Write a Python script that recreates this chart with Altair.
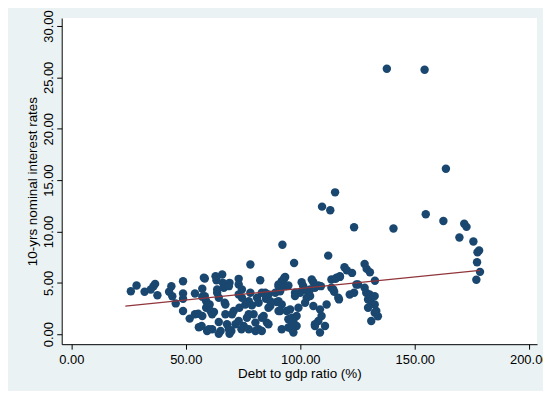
import altair as alt
import pandas as pd

debt = [
    26.0, 28.5, 32.0, 34.7, 35.9, 36.6, 37.6, 42.7, 43.7, 44.1, 45.6, 48.8, 48.8, 48.8, 48.8,
    51.7, 54.0, 54.0, 55.4, 55.7, 57.2, 58.3, 58.3, 58.9, 58.9, 59.3, 56.9, 57.2, 57.2, 57.9,
    60.4, 60.8, 61.5, 62.3, 63.4, 63.7, 63.7, 64.4, 65.2, 65.9, 66.2, 67.0, 67.3, 68.0, 69.1,
    69.1, 69.9, 70.9, 71.7, 73.1, 73.1, 73.1, 73.4, 74.3, 75.3, 76.7, 77.5, 78.2, 78.2, 78.9,
    79.6, 80.4, 81.8, 81.8, 82.5, 83.2, 84.0, 85.0, 85.4, 86.1, 86.9, 89.7, 90.5, 91.2, 91.9,
    93.4, 94.1, 94.8, 94.8, 96.3, 97.0, 98.4, 99.2, 99.9, 100.6, 101.3, 102.1, 102.8, 104.3, 105.7,
    106.4, 63.0, 90.5, 66.6, 68.8, 74.5, 84.7, 89.1, 64.4, 74.5, 81.1, 86.9, 67.3, 76.0, 86.1,
    90.5, 61.5, 70.2, 77.5, 83.2, 73.1, 80.4, 86.1, 60.1, 68.8, 77.5, 83.2, 91.9, 64.4,
    105.7, 108.6, 109.3, 107.9, 106.4, 110.8, 108.6, 111.5, 92.7, 93.4, 91.2, 97.7, 97.7, 101.8, 103.2,
    104.3, 106.4, 109.0, 113.6, 113.6, 115.8, 117.3, 114.8, 116.9, 121.6, 123.5, 125.2, 128.1, 128.8, 130.3,
    129.6, 132.5, 131.0, 132.5, 129.6, 132.5, 131.0, 133.2, 133.9, 90.5, 91.9, 95.6, 96.3, 97.0, 98.4,
    96.3, 97.3, 112.2, 119.3, 120.3, 122.6, 128.1, 129.0, 130.4, 132.6, 117.3, 115.4, 105.0, 93.1, 94.8,
    107.9, 114.4, 116.6, 124.5, 92.2, 115.2, 109.5, 113.1, 123.5, 140.7, 137.8, 154.3, 163.6, 154.8, 162.5,
    171.6, 172.6, 169.5, 175.6, 178.1, 177.4, 177.2, 178.5, 176.9,
]
rates = [
    4.19, 4.74, 4.13, 4.36, 4.68, 4.90, 3.80, 4.13, 4.68, 3.70, 3.00, 5.16, 3.97, 3.45, 2.26,
    1.52, 3.97, 1.94, 2.00, 0.68, 4.42, 5.42, 3.71, 3.22, 2.58, 0.32, 0.80, 3.65, 1.77, 5.49,
    2.90, 2.26, 0.48, 2.16, 5.26, 4.36, 4.04, 1.19, 0.32, 5.81, 5.00, 3.07, 1.94, 0.97, 5.00,
    0.05, 0.32, 2.26, 0.97, 5.39, 4.84, 3.87, 2.58, 0.48, 0.80, 1.61, 3.22, 4.04, 6.78, 2.81,
    1.94, 0.32, 0.48, 3.07, 5.26, 4.04, 1.77, 3.45, 1.13, 3.87, 2.74, 3.13, 4.84, 2.26, 5.16,
    5.58, 2.26, 1.45, 0.65, 0.97, 0.16, 1.77, 2.58, 4.04, 5.06, 4.68, 3.07, 3.55, 4.36, 5.06,
    0.80, 5.65, 4.68, 4.52, 4.68, 4.36, 4.04, 4.04, 3.55, 3.55, 3.55, 3.22, 2.90, 2.90, 2.58,
    2.26, 1.94, 1.94, 1.94, 1.61, 1.29, 1.13, 0.97, 0.48, 0.48, 0.48, 0.32, 0.48, 0.05,
    2.74, 2.42, 1.77, 1.29, 0.97, 0.80, 0.16, 2.90, 5.32, 4.68, 4.19, 4.04, 3.71, 4.36, 4.19,
    3.71, 4.52, 4.68, 4.52, 5.32, 5.49, 5.65, 4.13, 3.39, 3.87, 4.04, 4.84, 4.52, 4.04, 3.87,
    3.39, 3.71, 3.07, 2.90, 2.58, 2.10, 1.29, 2.26, 1.74, 3.22, 2.90, 2.42, 1.61, 1.29, 0.80,
    0.48, 6.94, 7.65, 6.52, 6.23, 5.97, 6.84, 6.36, 6.03, 5.20, 5.58, 5.39, 5.32, 5.49, 4.74,
    4.74, 4.36, 3.55, 4.84, 8.71, 13.81, 12.42, 12.07, 10.42, 10.29, 25.85, 25.75, 16.10, 11.68, 11.03,
    10.75, 10.45, 9.42, 9.03, 8.16, 7.97, 7.00, 6.07, 5.30,
]

fit_debt = [23.6, 178.5]
fit_rate = [2.74, 6.22]

x_ticks = [0, 50, 100, 150, 200]
y_ticks = [0, 5, 10, 15, 20, 25, 30]

pts = pd.DataFrame({"debt": debt, "rate": rates})
fit = pd.DataFrame({"debt": fit_debt, "rate": fit_rate})

xs = alt.Scale(domain=[-4.2, 203.4], nice=False, zero=False)
ys = alt.Scale(domain=[-0.97, 30.78], nice=False, zero=False)

x_axis = alt.Axis(
    values=x_ticks, format=".2f", title="Debt to gdp ratio (%)", grid=False,
    domainColor="#000000", tickColor="#000000", tickSize=5, labelPadding=4,
    titlePadding=1,
)
y_axis = alt.Axis(
    values=y_ticks, format=".2f", title="10-yrs nominal interest rates", grid=False,
    domainColor="#000000", tickColor="#000000", tickSize=5, labelAngle=270,
    labelAlign="center", labelBaseline="bottom", labelPadding=1, titlePadding=3,
)

points = alt.Chart(pts).mark_circle(size=72, opacity=1, color="#1a476f").encode(
    x=alt.X("debt:Q", scale=xs, axis=x_axis),
    y=alt.Y("rate:Q", scale=ys, axis=y_axis),
)
line = alt.Chart(fit).mark_line(color="#90353b", strokeWidth=1.2).encode(
    x=alt.X("debt:Q", scale=xs),
    y=alt.Y("rate:Q", scale=ys),
)

chart = (
    alt.layer(points, line)
    .properties(
        width=478, height=328,
        autosize=alt.AutoSizeParams(type="none"),
        padding={"left": 54, "top": 9, "right": 6, "bottom": 46},
        background="#eaf2f3",
    )
    .configure_view(fill="#ffffff", stroke=None)
    .configure_axis(
        labelFont="Liberation Sans", titleFont="Liberation Sans",
        labelFontSize=13, titleFontSize=13.5, titleFontWeight="normal",
        labelColor="#000000", titleColor="#000000",
    )
)

chart.save("out.html", embed_options={"renderer": "svg", "actions": False})
